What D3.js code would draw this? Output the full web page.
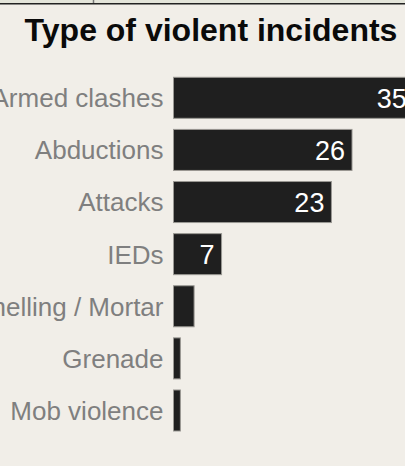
<!DOCTYPE html>
<html>
<head>
<meta charset="utf-8">
<script src="https://cdn.jsdelivr.net/npm/d3@7/dist/d3.min.js"></script>
<style>
html,body{margin:0;padding:0;background:#f1eee8;}
svg{display:block;}
</style>
</head>
<body>
<svg id="chart" width="405" height="466"></svg>
<script>
const categories = ["Armed clashes","Abductions","Attacks","IEDs","Shelling / Mortar","Grenade","Mob violence"];
const values = [35, 26, 23, 7, 3, 1, 1];
const title = "Type of violent incidents";

const svg = d3.select("#chart");
const W = 405, H = 466;
svg.append("rect").attr("width", W).attr("height", H).attr("fill", "#f1eee8");

// top strip (cropped frame)
svg.append("rect").attr("x", 0).attr("y", 0).attr("width", W).attr("height", 3).attr("fill", "#e4e5da");
svg.append("line").attr("x1", 0).attr("x2", W).attr("y1", 3.7).attr("y2", 3.7).attr("stroke", "#222").attr("stroke-width", 1.5);
svg.append("line").attr("x1", 93.5).attr("x2", 93.5).attr("y1", 0).attr("y2", 3).attr("stroke", "#777").attr("stroke-width", 1.5);

svg.append("text")
  .attr("x", 211).attr("y", 40.5)
  .attr("text-anchor", "middle")
  .attr("font-family", "Liberation Sans, Arial, sans-serif")
  .attr("font-weight", "bold")
  .attr("font-size", 32)
  .attr("fill", "#0a0a0a")
  .text(title);

const y = d3.scaleBand().domain(categories).range([77.3, 431]).paddingInner(0.213).paddingOuter(0);
const x = d3.scaleLinear().domain([0, 35]).range([173.5, 413.8]);

const g = svg.append("g");
g.selectAll("rect.bar").data(categories).join("rect")
  .attr("class", "bar")
  .attr("x", x(0))
  .attr("y", d => y(d))
  .attr("width", (d, i) => x(values[i]) - x(0))
  .attr("height", y.bandwidth())
  .attr("fill", "#1f1f1f")
  .attr("stroke", "#9a9893")
  .attr("stroke-width", 1);

g.selectAll("text.cat").data(categories).join("text")
  .attr("class", "cat")
  .attr("x", 163.5)
  .attr("y", d => y(d) + y.bandwidth() / 2)
  .attr("dy", "0.36em")
  .attr("text-anchor", "end")
  .attr("font-family", "Liberation Sans, Arial, sans-serif")
  .attr("font-size", 26)
  .attr("fill", "#7f7f7f")
  .text(d => d);

g.selectAll("text.val").data(categories.filter((d, i) => values[i] >= 5)).join("text")
  .attr("class", "val")
  .attr("x", d => x(values[categories.indexOf(d)]) - 7)
  .attr("y", d => y(d) + y.bandwidth() / 2)
  .attr("dy", "0.36em")
  .attr("text-anchor", "end")
  .attr("font-family", "Liberation Sans, Arial, sans-serif")
  .attr("font-size", 27)
  .attr("fill", "#ffffff")
  .text(d => values[categories.indexOf(d)]);
</script>
</body>
</html>
